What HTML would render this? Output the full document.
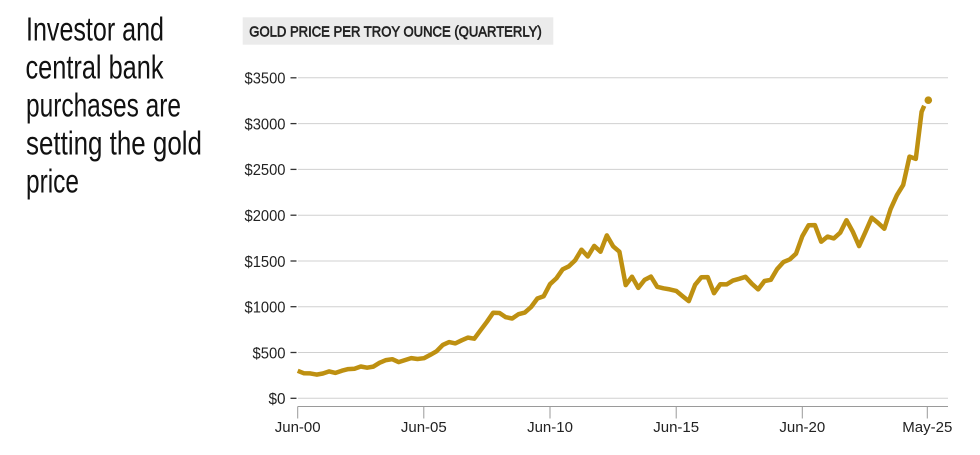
<!DOCTYPE html>
<html>
<head>
<meta charset="utf-8">
<style>
  html, body { margin: 0; padding: 0; background: #ffffff; }
  body { width: 980px; height: 455px; overflow: hidden; }
  svg { display: block; }
  text { font-family: "Liberation Sans", sans-serif; }
</style>
</head>
<body>
<svg width="980" height="455" viewBox="0 0 980 455" xmlns="http://www.w3.org/2000/svg">
  <!-- Heading -->
  <g fill="#111111" font-size="33">
    <text x="26" y="40.7" textLength="138" lengthAdjust="spacingAndGlyphs">Investor and</text>
    <text x="25.5" y="78.7" textLength="138" lengthAdjust="spacingAndGlyphs">central bank</text>
    <text x="26" y="116.7" textLength="155" lengthAdjust="spacingAndGlyphs">purchases are</text>
    <text x="26" y="154.7" textLength="176" lengthAdjust="spacingAndGlyphs">setting the gold</text>
    <text x="26" y="192.7" textLength="53" lengthAdjust="spacingAndGlyphs">price</text>
  </g>

  <!-- Chart title box -->
  <rect x="242.7" y="17.3" width="310.6" height="27.4" fill="#ebebeb"/>
  <text x="249.3" y="36.7" font-size="14.5" fill="#222222" stroke="#222222" stroke-width="0.65" textLength="292.4" lengthAdjust="spacingAndGlyphs">GOLD PRICE PER TROY OUNCE (QUARTERLY)</text>

  <!-- Gridlines -->
  <g stroke="#d0d0d0" stroke-width="1">
    <line x1="298" y1="77.8" x2="948" y2="77.8"/>
    <line x1="298" y1="123.6" x2="948" y2="123.6"/>
    <line x1="298" y1="169.4" x2="948" y2="169.4"/>
    <line x1="298" y1="215.2" x2="948" y2="215.2"/>
    <line x1="298" y1="261.0" x2="948" y2="261.0"/>
    <line x1="298" y1="306.7" x2="948" y2="306.7"/>
    <line x1="298" y1="352.5" x2="948" y2="352.5"/>
    <line x1="298" y1="398.3" x2="948" y2="398.3"/>
  </g>

  <!-- Y tick dashes -->
  <g stroke="#333333" stroke-width="1.3">
    <line x1="290.5" y1="77.8" x2="296.5" y2="77.8"/>
    <line x1="290.5" y1="123.6" x2="296.5" y2="123.6"/>
    <line x1="290.5" y1="169.4" x2="296.5" y2="169.4"/>
    <line x1="290.5" y1="215.2" x2="296.5" y2="215.2"/>
    <line x1="290.5" y1="261.0" x2="296.5" y2="261.0"/>
    <line x1="290.5" y1="306.7" x2="296.5" y2="306.7"/>
    <line x1="290.5" y1="352.5" x2="296.5" y2="352.5"/>
    <line x1="290.5" y1="398.3" x2="296.5" y2="398.3"/>
  </g>

  <!-- Y labels -->
  <g font-size="16" fill="#222222" text-anchor="end">
    <text x="285.5" y="83.6" textLength="41" lengthAdjust="spacingAndGlyphs">$3500</text>
    <text x="285.5" y="129.4" textLength="41" lengthAdjust="spacingAndGlyphs">$3000</text>
    <text x="285.5" y="175.2" textLength="41" lengthAdjust="spacingAndGlyphs">$2500</text>
    <text x="285.5" y="221.0" textLength="41" lengthAdjust="spacingAndGlyphs">$2000</text>
    <text x="285.5" y="266.8" textLength="41" lengthAdjust="spacingAndGlyphs">$1500</text>
    <text x="285.5" y="312.5" textLength="41" lengthAdjust="spacingAndGlyphs">$1000</text>
    <text x="285.5" y="358.3" textLength="33" lengthAdjust="spacingAndGlyphs">$500</text>
    <text x="285.5" y="404.1" textLength="17" lengthAdjust="spacingAndGlyphs">$0</text>
  </g>

  <!-- X axis -->
  <line x1="297.7" y1="406.5" x2="948" y2="406.5" stroke="#9a9a9a" stroke-width="1"/>
  <g stroke="#9a9a9a" stroke-width="1">
    <line x1="297.7" y1="406.5" x2="297.7" y2="418.5"/>
    <line x1="423.8" y1="406.5" x2="423.8" y2="418.5"/>
    <line x1="550.0" y1="406.5" x2="550.0" y2="418.5"/>
    <line x1="676.2" y1="406.5" x2="676.2" y2="418.5"/>
    <line x1="802.3" y1="406.5" x2="802.3" y2="418.5"/>
    <line x1="927.3" y1="406.5" x2="927.3" y2="418.5"/>
  </g>
  <g font-size="15" fill="#222222" text-anchor="middle">
    <text x="297.7" y="432">Jun-00</text>
    <text x="423.8" y="432">Jun-05</text>
    <text x="550.0" y="432">Jun-10</text>
    <text x="676.2" y="432">Jun-15</text>
    <text x="802.3" y="432">Jun-20</text>
    <text x="927.3" y="432">May-25</text>
  </g>

  <!-- Gold price series -->
  <polyline fill="none" stroke="#be9011" stroke-width="4.5" stroke-linejoin="round" stroke-linecap="butt"
    points="297.7,370.8 304.0,373.3 310.3,373.4 316.6,374.6 322.9,373.5 329.2,371.4 335.5,372.9 341.9,370.7 348.2,369.1 354.5,368.7 360.8,366.5 367.1,367.7 373.4,366.6 379.7,362.7 386.0,360.1 392.3,359.2 398.6,362.1 404.9,360.1 411.2,358.1 417.5,359.0 423.9,358.2 430.2,354.9 436.5,351.3 442.8,344.9 449.1,342.1 455.4,343.4 461.7,340.3 468.0,337.6 474.3,338.7 480.6,330.2 486.9,321.8 493.2,312.7 499.5,313.0 505.8,317.2 512.2,318.5 518.5,314.2 524.8,312.6 531.1,307.0 537.4,298.5 543.7,296.2 550.0,284.2 556.3,278.4 562.6,269.4 568.9,266.3 575.2,260.2 581.5,249.7 587.8,256.5 594.2,245.9 600.5,251.7 606.8,235.4 613.1,246.3 619.4,251.7 625.7,285.1 632.0,276.7 638.3,287.9 644.6,279.9 650.9,276.6 657.2,286.8 663.5,288.3 669.8,289.4 676.2,290.9 682.5,296.1 688.8,301.1 695.1,284.8 701.4,277.2 707.7,277.1 714.0,293.2 720.3,284.2 726.6,284.4 732.9,280.6 739.2,278.8 745.5,276.8 751.8,283.7 758.2,289.4 764.5,281.0 770.8,279.8 777.1,269.1 783.4,262.1 789.7,259.4 796.0,253.7 802.3,236.2 808.6,225.2 814.9,225.1 821.2,241.7 827.5,236.6 833.8,238.4 840.2,232.7 846.5,220.2 852.8,231.7 859.1,246.1 865.4,232.1 871.7,217.7 878.0,222.9 884.3,228.7 890.6,209.1 896.9,195.2 903.2,184.9 909.5,156.6 915.8,158.9 921.6,111.8 924.2,105.8"/>
  <circle cx="928.3" cy="100.2" r="3.8" fill="#be9011"/>
</svg>
</body>
</html>
